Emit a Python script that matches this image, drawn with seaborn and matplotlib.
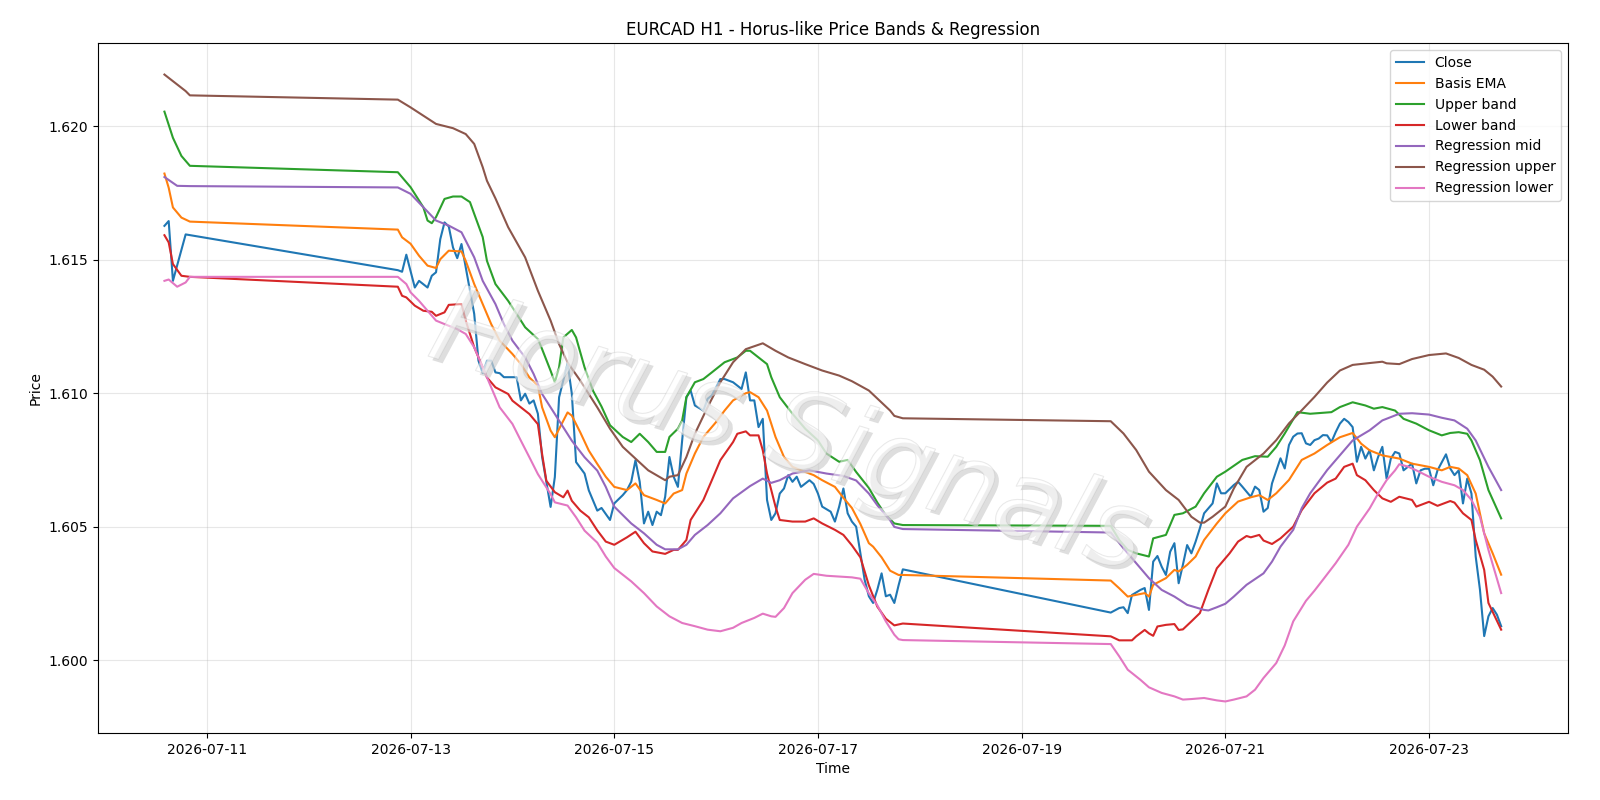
import matplotlib
matplotlib.use("Agg")
import matplotlib.pyplot as plt
import matplotlib.patheffects as pe
import pandas as pd
import seaborn as sns

# hourly readings, "MM-DD HH" (year 2026)
close_t = ["07-10 14", "07-10 15", "07-10 16", "07-10 19",
           "07-12 21", "07-12 22", "07-12 23", "07-13 01", "07-13 02", "07-13 04", "07-13 05", "07-13 06",
           "07-13 07", "07-13 08", "07-13 09", "07-13 10", "07-13 11", "07-13 12", "07-13 13", "07-13 15",
           "07-13 16", "07-13 17", "07-13 18", "07-13 19", "07-13 20", "07-13 21", "07-13 22", "07-14 00",
           "07-14 01", "07-14 02", "07-14 03", "07-14 04", "07-14 05", "07-14 06", "07-14 07", "07-14 09",
           "07-14 10", "07-14 11", "07-14 13", "07-14 14", "07-14 15", "07-14 17", "07-14 18", "07-14 20",
           "07-14 21", "07-14 23", "07-15 00", "07-15 02", "07-15 03", "07-15 04", "07-15 05", "07-15 06",
           "07-15 07", "07-15 08", "07-15 09", "07-15 10", "07-15 11", "07-15 12", "07-15 13", "07-15 14",
           "07-15 15", "07-15 16", "07-15 17", "07-15 18", "07-15 19", "07-15 21", "07-15 22", "07-15 23",
           "07-16 01", "07-16 02", "07-16 04", "07-16 06", "07-16 07", "07-16 08", "07-16 09", "07-16 10",
           "07-16 11", "07-16 12", "07-16 13", "07-16 14", "07-16 15", "07-16 16", "07-16 17", "07-16 18",
           "07-16 19", "07-16 20", "07-16 22", "07-16 23", "07-17 00", "07-17 01", "07-17 03", "07-17 04",
           "07-17 05", "07-17 06", "07-17 07", "07-17 08", "07-17 09", "07-17 10", "07-17 11", "07-17 12",
           "07-17 13", "07-17 14", "07-17 15", "07-17 16", "07-17 17", "07-17 18", "07-17 19", "07-17 20",
           "07-19 21", "07-19 23", "07-20 00", "07-20 01", "07-20 02", "07-20 04", "07-20 05", "07-20 06",
           "07-20 07", "07-20 08", "07-20 09", "07-20 10", "07-20 11", "07-20 12", "07-20 13", "07-20 14",
           "07-20 15", "07-20 16", "07-20 17", "07-20 18", "07-20 19", "07-20 21", "07-20 22", "07-20 23",
           "07-21 00", "07-21 02", "07-21 03", "07-21 04", "07-21 06", "07-21 07", "07-21 08", "07-21 09",
           "07-21 10", "07-21 11", "07-21 13", "07-21 14", "07-21 15", "07-21 16", "07-21 17", "07-21 18",
           "07-21 19", "07-21 20", "07-21 21", "07-21 22", "07-21 23", "07-22 00", "07-22 01", "07-22 02",
           "07-22 03", "07-22 04", "07-22 05", "07-22 06", "07-22 07", "07-22 08", "07-22 09", "07-22 10",
           "07-22 11", "07-22 12", "07-22 13", "07-22 14", "07-22 15", "07-22 16", "07-22 17", "07-22 18",
           "07-22 19", "07-22 20", "07-22 21", "07-22 22", "07-22 23", "07-23 00", "07-23 01", "07-23 02",
           "07-23 04", "07-23 05", "07-23 06", "07-23 07", "07-23 08", "07-23 09", "07-23 10", "07-23 11",
           "07-23 12", "07-23 13", "07-23 14", "07-23 15", "07-23 16", "07-23 17"]
close_v = [1.61627, 1.61645, 1.61421, 1.61595,
           1.61461, 1.61455, 1.61519, 1.61396, 1.61421, 1.61396, 1.61440, 1.61453,
           1.61577, 1.61640, 1.61625, 1.61546, 1.61506, 1.61559, 1.61471, 1.61297,
           1.61122, 1.61075, 1.61122, 1.61122, 1.61078, 1.61075, 1.61060, 1.61060,
           1.61060, 1.60973, 1.60998, 1.60961, 1.60973, 1.60923, 1.60761, 1.60574,
           1.60686, 1.60985, 1.61112, 1.60998, 1.60742, 1.60699, 1.60636, 1.60560,
           1.60570, 1.60525, 1.60587, 1.60618, 1.60637, 1.60668, 1.60749, 1.60668,
           1.60512, 1.60556, 1.60506, 1.60556, 1.60543, 1.60612, 1.60761, 1.60687,
           1.60649, 1.60823, 1.60985, 1.61010, 1.60954, 1.60935, 1.60979, 1.60992,
           1.61053, 1.61053, 1.61041, 1.61016, 1.61078, 1.60973, 1.60973, 1.60873,
           1.60904, 1.60600, 1.60525, 1.60550, 1.60624, 1.60643, 1.60693, 1.60668,
           1.60687, 1.60649, 1.60674, 1.60660, 1.60624, 1.60575, 1.60556, 1.60519,
           1.60575, 1.60643, 1.60550, 1.60519, 1.60500, 1.60400, 1.60301, 1.60239,
           1.60214, 1.60264, 1.60325, 1.60239, 1.60245, 1.60214, 1.60280, 1.60340,
           1.60178, 1.60195, 1.60198, 1.60176, 1.60244, 1.60263, 1.60270, 1.60188,
           1.60369, 1.60390, 1.60350, 1.60319, 1.60406, 1.60438, 1.60288, 1.60357,
           1.60431, 1.60400, 1.60444, 1.60494, 1.60550, 1.60587, 1.60662, 1.60625,
           1.60625, 1.60656, 1.60668, 1.60650, 1.60612, 1.60650, 1.60637, 1.60556,
           1.60570, 1.60662, 1.60756, 1.60718, 1.60806, 1.60837, 1.60849, 1.60850,
           1.60812, 1.60806, 1.60824, 1.60830, 1.60843, 1.60842, 1.60817, 1.60854,
           1.60886, 1.60904, 1.60892, 1.60873, 1.60743, 1.60799, 1.60755, 1.60786,
           1.60711, 1.60761, 1.60799, 1.60680, 1.60755, 1.60780, 1.60774, 1.60711,
           1.60724, 1.60736, 1.60662, 1.60711, 1.60717, 1.60717, 1.60655, 1.60711,
           1.60771, 1.60718, 1.60693, 1.60711, 1.60587, 1.60680, 1.60624, 1.60388,
           1.60264, 1.60090, 1.60164, 1.60195, 1.60170, 1.60127]

basis_t = ["07-10 14", "07-10 15", "07-10 16", "07-10 18", "07-10 20",
           "07-12 21", "07-12 22", "07-13 00", "07-13 02", "07-13 04", "07-13 06", "07-13 07", "07-13 09",
           "07-13 12", "07-13 13", "07-13 15", "07-13 17", "07-13 19", "07-13 21", "07-14 00", "07-14 02",
           "07-14 04", "07-14 06", "07-14 07", "07-14 09", "07-14 10", "07-14 12", "07-14 13", "07-14 14",
           "07-14 16", "07-14 18", "07-14 20", "07-14 22", "07-15 00", "07-15 03", "07-15 05", "07-15 07",
           "07-15 10", "07-15 12", "07-15 14", "07-15 16", "07-15 17", "07-15 19", "07-15 21", "07-16 00",
           "07-16 02", "07-16 04", "07-16 07", "07-16 08", "07-16 10", "07-16 12", "07-16 14", "07-16 16",
           "07-16 18", "07-16 20", "07-16 23", "07-17 01", "07-17 04", "07-17 06", "07-17 08", "07-17 10",
           "07-17 12", "07-17 13", "07-17 15", "07-17 17", "07-17 19", "07-17 20",
           "07-19 21", "07-19 23", "07-20 01", "07-20 05", "07-20 06", "07-20 07", "07-20 10", "07-20 12",
           "07-20 13", "07-20 15", "07-20 17", "07-20 19", "07-20 22", "07-21 00", "07-21 03", "07-21 06",
           "07-21 08", "07-21 10", "07-21 12", "07-21 15", "07-21 18", "07-21 21", "07-22 00", "07-22 03",
           "07-22 06", "07-22 08", "07-22 10", "07-22 13", "07-22 17", "07-22 20", "07-23 00", "07-23 03",
           "07-23 05", "07-23 07", "07-23 09", "07-23 11", "07-23 13", "07-23 15", "07-23 17"]
basis_v = [1.61823, 1.61770, 1.61696, 1.61658, 1.61643,
           1.61613, 1.61584, 1.61560, 1.61515, 1.61478, 1.61469, 1.61502, 1.61534,
           1.61531, 1.61496, 1.61409, 1.61334, 1.61259, 1.61197, 1.61147, 1.61109,
           1.61059, 1.61028, 1.60947, 1.60860, 1.60835, 1.60897, 1.60928, 1.60916,
           1.60853, 1.60785, 1.60735, 1.60687, 1.60649, 1.60637, 1.60662, 1.60618,
           1.60600, 1.60587, 1.60624, 1.60637, 1.60699, 1.60774, 1.60836, 1.60892,
           1.60935, 1.60973, 1.61000, 1.61004, 1.60985, 1.60935, 1.60836, 1.60761,
           1.60724, 1.60711, 1.60693, 1.60674, 1.60649, 1.60608, 1.60570, 1.60510,
           1.60438, 1.60425, 1.60385, 1.60335, 1.60319, 1.60319,
           1.60298, 1.60269, 1.60238, 1.60251, 1.60238, 1.60282, 1.60307, 1.60338,
           1.60332, 1.60357, 1.60388, 1.60450, 1.60512, 1.60550, 1.60594, 1.60610,
           1.60618, 1.60600, 1.60625, 1.60675, 1.60750, 1.60774, 1.60806, 1.60835,
           1.60851, 1.60811, 1.60786, 1.60767, 1.60755, 1.60736, 1.60724, 1.60711,
           1.60724, 1.60718, 1.60693, 1.60624, 1.60475, 1.60400, 1.60320]

upper_t = ["07-10 14", "07-10 16", "07-10 18", "07-10 20",
           "07-12 21", "07-13 00", "07-13 03", "07-13 04", "07-13 05", "07-13 06", "07-13 08", "07-13 10",
           "07-13 12", "07-13 14", "07-13 15", "07-13 17", "07-13 18", "07-13 20", "07-13 23", "07-14 01",
           "07-14 03", "07-14 06", "07-14 07", "07-14 09", "07-14 10", "07-14 11", "07-14 12", "07-14 14",
           "07-14 15", "07-14 17", "07-14 19", "07-14 21", "07-14 23", "07-15 02", "07-15 04", "07-15 06",
           "07-15 08", "07-15 10", "07-15 12", "07-15 13", "07-15 15", "07-15 16", "07-15 17", "07-15 19",
           "07-15 21", "07-15 23", "07-16 02", "07-16 05", "07-16 07", "07-16 08", "07-16 10", "07-16 12",
           "07-16 13", "07-16 15", "07-16 18", "07-16 21", "07-17 00", "07-17 02", "07-17 05", "07-17 07",
           "07-17 09", "07-17 12", "07-17 14", "07-17 16", "07-17 18", "07-17 20",
           "07-19 21", "07-19 23", "07-20 01", "07-20 03", "07-20 06", "07-20 07", "07-20 10", "07-20 12",
           "07-20 14", "07-20 17", "07-20 19", "07-20 22", "07-21 00", "07-21 04", "07-21 07", "07-21 10",
           "07-21 12", "07-21 14", "07-21 17", "07-21 20", "07-22 01", "07-22 03", "07-22 06", "07-22 09",
           "07-22 11", "07-22 13", "07-22 16", "07-22 18", "07-22 21", "07-23 00", "07-23 03", "07-23 05",
           "07-23 07", "07-23 09", "07-23 10", "07-23 12", "07-23 14", "07-23 17"]
upper_v = [1.62055, 1.61957, 1.61889, 1.61852,
           1.61828, 1.61772, 1.61697, 1.61647, 1.61637, 1.61660, 1.61728, 1.61737,
           1.61737, 1.61716, 1.61672, 1.61585, 1.61496, 1.61409, 1.61346, 1.61297,
           1.61247, 1.61203, 1.61165, 1.61084, 1.61041, 1.61097, 1.61209, 1.61237,
           1.61209, 1.61097, 1.61009, 1.60950, 1.60880, 1.60836, 1.60817, 1.60848,
           1.60817, 1.60780, 1.60780, 1.60836, 1.60867, 1.60898, 1.60985, 1.61041,
           1.61053, 1.61078, 1.61116, 1.61134, 1.61159, 1.61159, 1.61134, 1.61109,
           1.61060, 1.60985, 1.60923, 1.60867, 1.60823, 1.60774, 1.60743, 1.60750,
           1.60705, 1.60645, 1.60590, 1.60543, 1.60512, 1.60506,
           1.60503, 1.60450, 1.60413, 1.60400, 1.60388, 1.60456, 1.60469, 1.60544,
           1.60550, 1.60575, 1.60625, 1.60687, 1.60706, 1.60750, 1.60764, 1.60762,
           1.60799, 1.60849, 1.60929, 1.60923, 1.60929, 1.60948, 1.60966, 1.60954,
           1.60942, 1.60948, 1.60935, 1.60904, 1.60886, 1.60861, 1.60842, 1.60851,
           1.60854, 1.60848, 1.60823, 1.60749, 1.60637, 1.60531]

lower_t = ["07-10 14", "07-10 15", "07-10 16", "07-10 18", "07-10 20",
           "07-12 21", "07-12 22", "07-12 23", "07-13 01", "07-13 03", "07-13 05", "07-13 06", "07-13 08",
           "07-13 09", "07-13 12", "07-13 13", "07-13 15", "07-13 17", "07-13 18", "07-13 20", "07-13 23",
           "07-14 00", "07-14 02", "07-14 04", "07-14 06", "07-14 07", "07-14 08", "07-14 10", "07-14 12",
           "07-14 13", "07-14 14", "07-14 16", "07-14 18", "07-14 20", "07-14 22", "07-15 00", "07-15 03",
           "07-15 05", "07-15 07", "07-15 09", "07-15 12", "07-15 14", "07-15 15", "07-15 17", "07-15 18",
           "07-15 21", "07-15 23", "07-16 01", "07-16 04", "07-16 05", "07-16 07", "07-16 08", "07-16 10",
           "07-16 11", "07-16 12", "07-16 14", "07-16 15", "07-16 18", "07-16 21", "07-16 23", "07-17 01",
           "07-17 04", "07-17 06", "07-17 08", "07-17 10", "07-17 12", "07-17 14", "07-17 16", "07-17 18",
           "07-17 20",
           "07-19 21", "07-19 23", "07-20 02", "07-20 03", "07-20 05", "07-20 06", "07-20 07", "07-20 08",
           "07-20 10", "07-20 12", "07-20 13", "07-20 14", "07-20 16", "07-20 18", "07-20 20", "07-20 22",
           "07-21 01", "07-21 03", "07-21 05", "07-21 06", "07-21 08", "07-21 09", "07-21 11", "07-21 13",
           "07-21 16", "07-21 18", "07-21 21", "07-22 00", "07-22 02", "07-22 04", "07-22 06", "07-22 07",
           "07-22 09", "07-22 11", "07-22 13", "07-22 15", "07-22 17", "07-22 20", "07-22 21", "07-23 00",
           "07-23 02", "07-23 05", "07-23 06", "07-23 08", "07-23 10", "07-23 11", "07-23 13", "07-23 14",
           "07-23 17"]
lower_v = [1.61592, 1.61565, 1.61484, 1.61440, 1.61436,
           1.61399, 1.61365, 1.61359, 1.61328, 1.61309, 1.61305, 1.61290, 1.61303,
           1.61331, 1.61334, 1.61272, 1.61172, 1.61097, 1.61059, 1.61022, 1.60997,
           1.60972, 1.60947, 1.60922, 1.60884, 1.60772, 1.60672, 1.60629, 1.60610,
           1.60635, 1.60597, 1.60560, 1.60535, 1.60486, 1.60444, 1.60432, 1.60460,
           1.60481, 1.60438, 1.60407, 1.60398, 1.60413, 1.60413, 1.60450, 1.60525,
           1.60600, 1.60674, 1.60749, 1.60817, 1.60848, 1.60857, 1.60842, 1.60842,
           1.60786, 1.60699, 1.60575, 1.60525, 1.60519, 1.60519, 1.60531, 1.60512,
           1.60488, 1.60469, 1.60430, 1.60385, 1.60280, 1.60200, 1.60155, 1.60130,
           1.60137,
           1.60089, 1.60074, 1.60074, 1.60089, 1.60113, 1.60100, 1.60091, 1.60126,
           1.60132, 1.60135, 1.60113, 1.60115, 1.60145, 1.60176, 1.60263, 1.60344,
           1.60400, 1.60444, 1.60465, 1.60460, 1.60469, 1.60448, 1.60435, 1.60456,
           1.60500, 1.60562, 1.60625, 1.60665, 1.60680, 1.60724, 1.60736, 1.60693,
           1.60674, 1.60637, 1.60606, 1.60593, 1.60612, 1.60600, 1.60575, 1.60593,
           1.60578, 1.60596, 1.60590, 1.60550, 1.60525, 1.60450, 1.60338, 1.60214,
           1.60114]

reg_mid_t = ["07-10 14", "07-10 17", "07-10 20",
             "07-12 21", "07-13 00", "07-13 03", "07-13 06", "07-13 09", "07-13 12", "07-13 15", "07-13 17",
             "07-13 20", "07-13 22", "07-14 00", "07-14 03", "07-14 05", "07-14 07", "07-14 10", "07-14 12",
             "07-14 14", "07-14 17", "07-14 20", "07-14 22", "07-15 00", "07-15 04", "07-15 07", "07-15 10",
             "07-15 12", "07-15 15", "07-15 17", "07-15 19", "07-15 22", "07-16 01", "07-16 04", "07-16 08",
             "07-16 11", "07-16 13", "07-16 15", "07-16 18", "07-16 22", "07-17 02", "07-17 06", "07-17 09",
             "07-17 12", "07-17 14", "07-17 17", "07-17 18", "07-17 20",
             "07-19 21", "07-20 00", "07-20 03", "07-20 06", "07-20 09", "07-20 12", "07-20 15", "07-20 19",
             "07-20 20", "07-20 22", "07-21 00", "07-21 02", "07-21 05", "07-21 09", "07-21 11", "07-21 13",
             "07-21 16", "07-21 18", "07-21 20", "07-22 00", "07-22 02", "07-22 06", "07-22 10", "07-22 13",
             "07-22 17", "07-22 20", "07-23 00", "07-23 03", "07-23 06", "07-23 09", "07-23 11", "07-23 14",
             "07-23 17"]
reg_mid_v = [1.61810, 1.61777, 1.61776,
             1.61771, 1.61747, 1.61697, 1.61647, 1.61628, 1.61603, 1.61509, 1.61421,
             1.61334, 1.61259, 1.61197, 1.61134, 1.61072, 1.60997, 1.60922, 1.60872,
             1.60822, 1.60760, 1.60710, 1.60649, 1.60575, 1.60512, 1.60475, 1.60432,
             1.60415, 1.60415, 1.60432, 1.60469, 1.60506, 1.60550, 1.60606, 1.60652,
             1.60680, 1.60664, 1.60674, 1.60699, 1.60711, 1.60699, 1.60690, 1.60673,
             1.60624, 1.60580, 1.60524, 1.60499, 1.60491,
             1.60478, 1.60419, 1.60363, 1.60307, 1.60263, 1.60238, 1.60207, 1.60188,
             1.60186, 1.60198, 1.60211, 1.60238, 1.60282, 1.60325, 1.60369, 1.60425,
             1.60488, 1.60569, 1.60625, 1.60712, 1.60749, 1.60823, 1.60861, 1.60898,
             1.60923, 1.60925, 1.60920, 1.60908, 1.60898, 1.60867, 1.60823, 1.60724,
             1.60637]

reg_up_t = ["07-10 14", "07-10 19", "07-10 20",
            "07-12 21", "07-13 00", "07-13 03", "07-13 06", "07-13 10", "07-13 13", "07-13 15", "07-13 17",
            "07-13 18", "07-13 20", "07-13 23", "07-14 03", "07-14 06", "07-14 09", "07-14 11", "07-14 13",
            "07-14 16", "07-14 20", "07-14 23", "07-15 02", "07-15 05", "07-15 08", "07-15 12", "07-15 13",
            "07-15 15", "07-15 17", "07-15 19", "07-15 22", "07-16 01", "07-16 04", "07-16 07", "07-16 11",
            "07-16 14", "07-16 17", "07-16 21", "07-17 01", "07-17 05", "07-17 08", "07-17 12", "07-17 15",
            "07-17 17", "07-17 18", "07-17 20",
            "07-19 21", "07-20 00", "07-20 03", "07-20 06", "07-20 10", "07-20 13", "07-20 16", "07-20 18",
            "07-20 19", "07-20 21", "07-21 00", "07-21 02", "07-21 05", "07-21 09", "07-21 12", "07-21 15",
            "07-21 18", "07-21 21", "07-22 00", "07-22 03", "07-22 06", "07-22 10", "07-22 13", "07-22 14",
            "07-22 17", "07-22 20", "07-23 00", "07-23 04", "07-23 07", "07-23 10", "07-23 13", "07-23 15",
            "07-23 17"]
reg_up_v = [1.62194, 1.62132, 1.62116,
            1.62100, 1.62071, 1.62040, 1.62009, 1.61993, 1.61971, 1.61934, 1.61847,
            1.61796, 1.61730, 1.61622, 1.61509, 1.61384, 1.61272, 1.61184, 1.61115,
            1.61047, 1.60947, 1.60867, 1.60799, 1.60755, 1.60711, 1.60674, 1.60687,
            1.60693, 1.60761, 1.60848, 1.60948, 1.61041, 1.61116, 1.61165, 1.61187,
            1.61159, 1.61134, 1.61109, 1.61085, 1.61066, 1.61045, 1.61010, 1.60965,
            1.60935, 1.60915, 1.60906,
            1.60895, 1.60849, 1.60787, 1.60706, 1.60637, 1.60600, 1.60537, 1.60515,
            1.60515, 1.60537, 1.60575, 1.60643, 1.60724, 1.60774, 1.60824, 1.60887,
            1.60936, 1.60986, 1.61040, 1.61085, 1.61106, 1.61113, 1.61118, 1.61112,
            1.61109, 1.61128, 1.61143, 1.61149, 1.61132, 1.61106, 1.61088, 1.61062,
            1.61025]

reg_low_t = ["07-10 14", "07-10 15", "07-10 17", "07-10 19", "07-10 20",
             "07-12 21", "07-12 23", "07-13 00", "07-13 02", "07-13 04", "07-13 06", "07-13 08", "07-13 11",
             "07-13 13", "07-13 15", "07-13 17", "07-13 19", "07-13 21", "07-14 00", "07-14 02", "07-14 04",
             "07-14 06", "07-14 09", "07-14 10", "07-14 13", "07-14 15", "07-14 17", "07-14 20", "07-14 22",
             "07-15 00", "07-15 04", "07-15 07", "07-15 10", "07-15 13", "07-15 16", "07-15 19", "07-15 22",
             "07-16 01", "07-16 04", "07-16 06", "07-16 09", "07-16 11", "07-16 13", "07-16 14", "07-16 16",
             "07-16 18", "07-16 21", "07-16 23", "07-17 02", "07-17 05", "07-17 08", "07-17 10", "07-17 12",
             "07-17 14", "07-17 16", "07-17 18", "07-17 19", "07-17 20",
             "07-19 21", "07-19 23", "07-20 01", "07-20 04", "07-20 06", "07-20 09", "07-20 12", "07-20 14",
             "07-20 16", "07-20 19", "07-20 22", "07-21 00", "07-21 02", "07-21 05", "07-21 07", "07-21 09",
             "07-21 12", "07-21 14", "07-21 16", "07-21 19", "07-21 21", "07-21 23", "07-22 02", "07-22 05",
             "07-22 07", "07-22 10", "07-22 12", "07-22 14", "07-22 16", "07-22 17", "07-22 19", "07-22 21",
             "07-23 00", "07-23 03", "07-23 06", "07-23 08", "07-23 10", "07-23 12", "07-23 14", "07-23 17"]
reg_low_v = [1.61421, 1.61426, 1.61399, 1.61415, 1.61436,
             1.61436, 1.61409, 1.61378, 1.61346, 1.61309, 1.61272, 1.61259, 1.61240,
             1.61222, 1.61172, 1.61097, 1.61022, 1.60947, 1.60885, 1.60822, 1.60760,
             1.60697, 1.60622, 1.60591, 1.60579, 1.60535, 1.60485, 1.60440, 1.60388,
             1.60345, 1.60295, 1.60251, 1.60201, 1.60164, 1.60139, 1.60127, 1.60114,
             1.60108, 1.60121, 1.60139, 1.60158, 1.60174, 1.60164, 1.60162, 1.60195,
             1.60251, 1.60301, 1.60323, 1.60316, 1.60313, 1.60310, 1.60305, 1.60250,
             1.60205, 1.60145, 1.60095, 1.60078, 1.60075,
             1.60060, 1.60014, 1.59964, 1.59926, 1.59898, 1.59877, 1.59864, 1.59852,
             1.59854, 1.59858, 1.59849, 1.59845, 1.59852, 1.59864, 1.59889, 1.59933,
             1.59989, 1.60055, 1.60145, 1.60222, 1.60260, 1.60301, 1.60363, 1.60432,
             1.60500, 1.60568, 1.60624, 1.60674, 1.60711, 1.60734, 1.60725, 1.60711,
             1.60687, 1.60668, 1.60655, 1.60637, 1.60600, 1.60537, 1.60413, 1.60251]

series = [
    ("Close", close_t, close_v),
    ("Basis EMA", basis_t, basis_v),
    ("Upper band", upper_t, upper_v),
    ("Lower band", lower_t, lower_v),
    ("Regression mid", reg_mid_t, reg_mid_v),
    ("Regression upper", reg_up_t, reg_up_v),
    ("Regression lower", reg_low_t, reg_low_v),
]
colors = sns.color_palette("tab10", 7)


def to_time(labels):
    return pd.to_datetime(["2026-" + s for s in labels], format="%Y-%m-%d %H")


fig, ax = plt.subplots(figsize=(16, 8), dpi=100)
for (name, t, v), c in zip(series, colors):
    sns.lineplot(x=to_time(t), y=v, ax=ax, label=name, color=c, linewidth=1.5)

ax.set_title("EURCAD H1 - Horus-like Price Bands & Regression")
ax.set_xlabel("Time")
ax.set_ylabel("Price")
ax.grid(True, alpha=0.3)
ax.legend(loc="upper right")

# watermark
fig.text(0.493, 0.457, "Horus Signals", fontsize=78, style="italic", rotation=-17,
         ha="center", va="center", color="white", alpha=0.3, zorder=10,
         path_effects=[pe.SimplePatchShadow(offset=(3, -3), shadow_rgbFace="#d0d0d0", alpha=0.7),
                       pe.Stroke(linewidth=0.8, foreground="#b0b0b0"), pe.Normal()])

fig.subplots_adjust(left=0.061, right=0.98, top=0.946, bottom=0.084)
plt.savefig("out.png")
